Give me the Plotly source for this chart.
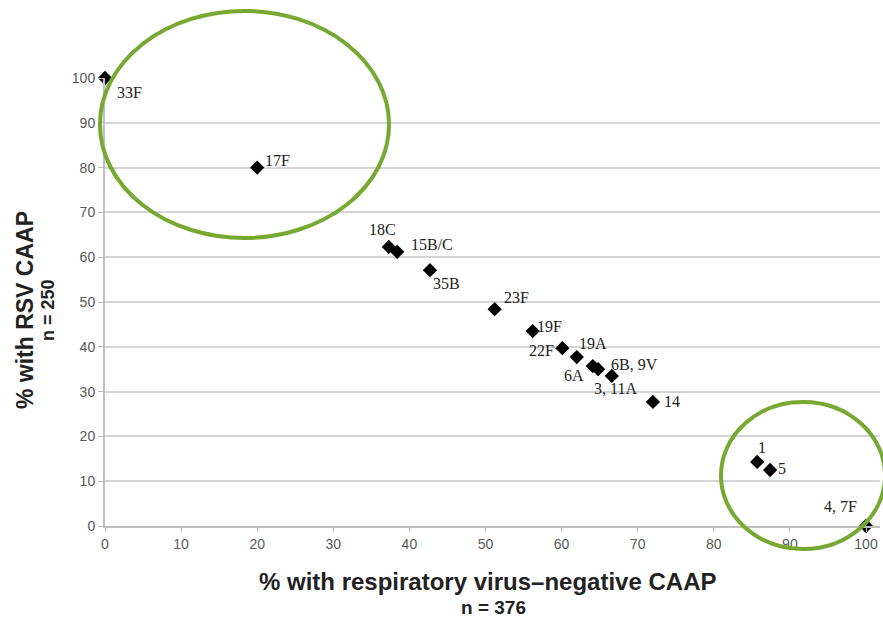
import plotly.graph_objects as go

# Pneumococcal serotypes: share of children with RSV-associated CAAP vs
# share with respiratory virus-negative CAAP
serotypes = ["33F", "17F", "18C", "15B/C", "35B", "23F", "19F", "22F", "19A",
             "6A", "6B, 9V", "3, 11A", "14", "1", "5", "4, 7F"]
pct_virus_negative = [0, 20.0, 37.3, 38.4, 42.7, 51.2, 56.2, 60.1, 62.0,
                      64.1, 64.8, 66.6, 72.0, 85.7, 87.4, 100]
pct_rsv = [100, 80.0, 62.3, 61.2, 57.1, 48.4, 43.5, 39.7, 37.7,
           35.7, 35.0, 33.5, 27.7, 14.3, 12.5, 0]

x_ticks = list(range(0, 101, 10))
y_ticks = list(range(0, 101, 10))

# label placement around each marker, in pixels (dx right, dy up)
label_offsets = {
    "33F": (24, -14), "17F": (20, 7), "18C": (-6, 17), "15B/C": (35, 7),
    "35B": (17, -13), "23F": (22, 12), "19F": (17, 5), "22F": (-21, -2),
    "19A": (16, 14), "6A": (-19, -9), "6B, 9V": (36, 5), "3, 11A": (4, -13),
    "14": (19, 0), "1": (5, 14), "5": (12, 2), "4, 7F": (-26, 20),
}

GREEN = "#76a832"
TICK_GRAY = "#595959"

fig = go.Figure()
fig.add_trace(go.Scatter(
    x=pct_virus_negative, y=pct_rsv, mode="markers",
    marker=dict(symbol="diamond", size=11, color="black"),
    cliponaxis=False, hoverinfo="text", text=serotypes, showlegend=False,
))

annotations = []
for name, xv, yv in zip(serotypes, pct_virus_negative, pct_rsv):
    dx, dy = label_offsets[name]
    annotations.append(dict(
        x=xv, y=yv, xref="x", yref="y", text=name, showarrow=False,
        xanchor="center", yanchor="middle", xshift=dx, yshift=dy,
        font=dict(family="Liberation Serif, Times New Roman, serif", size=16, color="#222222"),
    ))

title_font = dict(family="Liberation Sans, Arial, sans-serif", color="#222222")
annotations += [
    dict(text="<b>% with respiratory virus–negative CAAP</b>", xref="paper", yref="paper",
         x=0.493, y=-0.1228, xanchor="center", yanchor="middle", showarrow=False,
         font=dict(size=24, **title_font)),
    dict(text="<b>n = 376</b>", xref="paper", yref="paper",
         x=0.501, y=-0.181, xanchor="center", yanchor="middle", showarrow=False,
         font=dict(size=19, **title_font)),
    dict(text="<b>% with RSV CAAP</b>", xref="paper", yref="paper", textangle=-90,
         x=-0.1032, y=0.482, xanchor="center", yanchor="middle", showarrow=False,
         font=dict(size=23, **title_font)),
    dict(text="<b>n = 250</b>", xref="paper", yref="paper", textangle=-90,
         x=-0.0735, y=0.482, xanchor="center", yanchor="middle", showarrow=False,
         font=dict(size=18, **title_font)),
]

# highlight rings around the outlying serotypes
shapes = [
    dict(type="circle", xref="paper", yref="paper",
         x0=-0.0065, x1=0.3665, y0=0.6429, y1=1.1496,
         line=dict(color=GREEN, width=4), layer="above"),
    dict(type="circle", xref="paper", yref="paper",
         x0=0.7948, x1=1.0065, y0=-0.0513, y1=0.2768,
         line=dict(color=GREEN, width=4), layer="above"),
]

fig.update_layout(
    width=883, height=622,
    margin=dict(l=105, r=3, t=78, b=96),
    paper_bgcolor="white", plot_bgcolor="white",
    annotations=annotations, shapes=shapes,
    xaxis=dict(
        range=[0, 101.84], tickvals=x_ticks, ticks="outside", ticklen=4,
        tickcolor="#bfbfbf", showgrid=False, zeroline=False,
        showline=True, linecolor="#bfbfbf", linewidth=2,
        tickfont=dict(family="Liberation Sans, Arial, sans-serif", size=14, color=TICK_GRAY),
    ),
    yaxis=dict(
        range=[0, 100], tickvals=y_ticks, ticks="outside", ticklen=5,
        tickcolor="#bfbfbf", showgrid=True, gridcolor="#d4d4d4", gridwidth=2,
        zeroline=False, showline=True, linecolor="#bfbfbf", linewidth=2,
        tickfont=dict(family="Liberation Sans, Arial, sans-serif", size=14, color=TICK_GRAY),
    ),
)

fig.write_html("out.html")
